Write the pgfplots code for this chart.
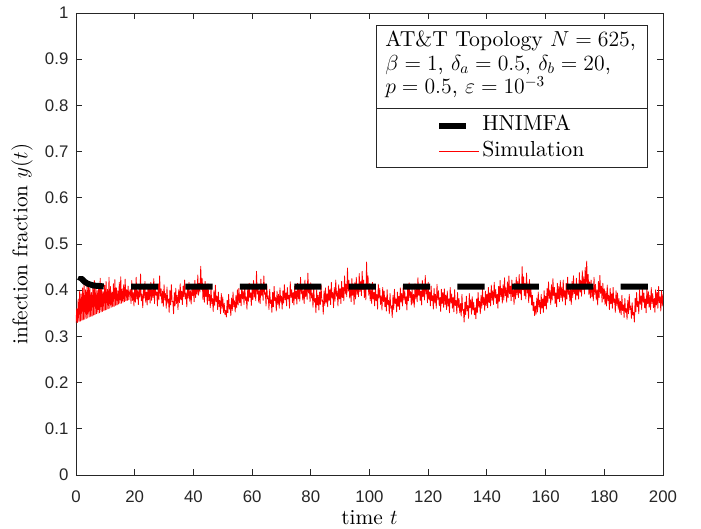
\RequirePackage{fix-cm}
\documentclass[border=0pt]{standalone}
\usepackage{fontspec}
\setmainfont{lmroman10-regular}[Extension=.otf, ItalicFont=lmroman10-italic, BoldFont=lmroman10-bold]
\usepackage{pgfplots}
\pgfplotsset{compat=1.18}
\newfontfamily\ticksf{Liberation Sans}
\definecolor{axgray}{rgb}{0.15,0.15,0.15}
\begin{document}
\begin{tikzpicture}
\begin{axis}[
  scale only axis, width=440.25pt, height=346.5pt,
  xmin=0, xmax=200, ymin=0, ymax=1,
  xtick={0,20,40,60,80,100,120,140,160,180,200},
  ytick={0,0.1,0.2,0.3,0.4,0.5,0.6,0.7,0.8,0.9,1},
  yticklabels={0,0.1,0.2,0.3,0.4,0.5,0.6,0.7,0.8,0.9,1},
  /pgf/number format/assume math mode=true,
  axis line style={axgray, line width=0.6pt},
  tick style={axgray, line width=0.6pt},
  major tick length=4.5pt,
  tick align=inside,
  xticklabel style={font=\ticksf\fontsize{12.6}{15}\selectfont, text=axgray, yshift=-8.3pt},
  yticklabel style={font=\ticksf\fontsize{12.6}{15}\selectfont, text=axgray, xshift=-2.2pt},
  xlabel={time $t$}, ylabel={infection fraction $y(t)$},
  every axis x label/.style={at={(axis description cs:0.5,-0.0918)}, anchor=center, font=\fontsize{16}{19}\selectfont},
  every axis y label/.style={at={(axis description cs:-0.092,0.5)}, rotate=90, anchor=center, font=\fontsize{16}{19}\selectfont},
  legend style={at={(axis description cs:0.6133,0.7288)}, anchor=west, draw=none, fill=none,
    inner sep=0pt, row sep=0pt, column sep=0pt, font=\fontsize{16.3}{19}\selectfont,
    nodes={text height=11.5pt, text depth=3.5pt, inner sep=2pt, anchor=west}},
  legend cell align=left,
]
\addplot[red, line width=0.6pt, line join=round, forget plot] coordinates {
(0,0.329)(0.25,0.360)(0.5,0.330)(0.75,0.381)(1,0.332)(1.25,0.398)(1.5,0.333)(1.75,0.392)(2,0.335)(2.25,0.405)
(2.5,0.336)(2.75,0.412)(3,0.337)(3.25,0.401)(3.5,0.339)(3.75,0.409)(4,0.340)(4.25,0.418)(4.5,0.342)(4.75,0.404)
(5,0.343)(5.25,0.395)(5.5,0.344)(5.75,0.410)(6,0.346)(6.25,0.421)(6.5,0.347)(6.75,0.407)(7,0.349)(7.25,0.399)
(7.5,0.350)(7.75,0.413)(8,0.351)(8.25,0.426)(8.5,0.353)(8.75,0.404)(9,0.354)(9.25,0.397)(9.5,0.356)(9.75,0.411)
(10,0.357)(10.25,0.419)(10.5,0.358)(10.75,0.402)(11,0.360)(11.25,0.428)(11.5,0.361)(11.75,0.408)(12,0.363)(12.25,0.396)
(12.5,0.364)(12.75,0.414)(13,0.365)(13.25,0.423)(13.5,0.367)(13.75,0.405)(14,0.368)(14.25,0.399)(14.5,0.370)(14.75,0.417)
(15,0.371)(15.25,0.429)(15.5,0.372)(15.75,0.403)(16,0.374)(16.25,0.412)(16.5,0.375)(16.75,0.424)(17,0.377)(17.25,0.401)
(17.5,0.378)(17.75,0.409)(18,0.379)(18.25,0.395)
(18.5,0.402)(18.75,0.371)(19,0.421)(19.25,0.378)(19.5,0.395)(19.75,0.366)(20,0.412)(20.25,0.374)
(20.5,0.428)(20.75,0.381)(21,0.399)(21.25,0.369)(21.5,0.407)(21.75,0.385)(22,0.435)(22.25,0.377)(22.5,0.391)(22.75,0.362)
(23,0.404)(23.25,0.383)(23.5,0.419)(23.75,0.374)(24,0.396)(24.25,0.368)(24.5,0.411)(24.75,0.379)(25,0.402)(25.25,0.372)
(25.5,0.417)(25.75,0.378)(26,0.401)(26.25,0.384)(26.5,0.425)(26.75,0.371)(27,0.409)(27.25,0.389)(27.5,0.396)(27.75,0.366)
(28,0.414)(28.25,0.380)(28.5,0.431)(28.75,0.387)(29,0.403)(29.25,0.372)(29.5,0.398)(29.75,0.365)(30,0.412)(30.25,0.379)
(30.5,0.393)(30.75,0.361)(31,0.407)(31.25,0.372)(31.5,0.381)(31.75,0.352)(32,0.400)(32.25,0.368)(32.5,0.412)(32.75,0.375)
(33,0.376)(33.25,0.349)(33.5,0.395)(33.75,0.366)(34,0.404)(34.25,0.371)(34.5,0.389)(34.75,0.358)(35,0.401)(35.25,0.373)
(35.5,0.414)(35.75,0.379)(36,0.398)(36.25,0.369)(36.5,0.409)(36.75,0.386)(37,0.422)(37.25,0.381)(37.5,0.394)(37.75,0.364)
(38,0.406)(38.25,0.383)(38.5,0.417)(38.75,0.376)(39,0.399)(39.25,0.370)(39.5,0.411)(39.75,0.388)(40,0.403)(40.25,0.375)
(40.5,0.421)(40.75,0.384)(41,0.408)(41.25,0.391)(41.5,0.433)(41.75,0.389)(42,0.415)(42.25,0.396)(42.5,0.452)(42.75,0.402)
(43,0.425)(43.25,0.380)(43.5,0.407)(43.75,0.374)(44,0.419)(44.25,0.386)(44.5,0.402)(44.75,0.369)(45,0.414)(45.25,0.377)
(45.5,0.391)(45.75,0.362)(46,0.406)(46.25,0.371)(46.5,0.382)(46.75,0.354)(47,0.399)(47.25,0.367)(47.5,0.411)(47.75,0.375)
(48,0.387)(48.25,0.358)(48.5,0.396)(48.75,0.364)(49,0.378)(49.25,0.349)(49.5,0.393)(49.75,0.361)(50,0.385)(50.25,0.352)
(50.5,0.372)(50.75,0.347)(51,0.356)(51.25,0.342)(51.5,0.378)(51.75,0.351)(52,0.391)(52.25,0.359)(52.5,0.369)(52.75,0.345)
(53,0.383)(53.25,0.356)(53.5,0.396)(53.75,0.364)(54,0.377)(54.25,0.353)(54.5,0.389)(54.75,0.362)(55,0.401)(55.25,0.368)
(55.5,0.404)(55.75,0.373)(56,0.391)(56.25,0.366)(56.5,0.412)(56.75,0.381)(57,0.397)(57.25,0.369)(57.5,0.409)(57.75,0.378)
(58,0.386)(58.25,0.359)(58.5,0.402)(58.75,0.376)(59,0.415)(59.25,0.384)(59.5,0.394)(59.75,0.367)(60,0.406)(60.25,0.379)
(60.5,0.421)(60.75,0.385)(61,0.403)(61.25,0.377)(61.5,0.441)(61.75,0.392)(62,0.412)(62.25,0.374)(62.5,0.399)(62.75,0.371)
(63,0.424)(63.25,0.389)(63.5,0.407)(63.75,0.378)(64,0.431)(64.25,0.391)(64.5,0.396)(64.75,0.366)(65,0.413)(65.25,0.381)
(65.5,0.388)(65.75,0.358)(66,0.402)(66.25,0.371)(66.5,0.379)(66.75,0.352)(67,0.395)(67.25,0.364)(67.5,0.408)(67.75,0.377)
(68,0.384)(68.25,0.355)(68.5,0.398)(68.75,0.369)(69,0.391)(69.25,0.361)(69.5,0.405)(69.75,0.374)(70,0.387)(70.25,0.359)
(70.5,0.399)(70.75,0.372)(71,0.412)(71.25,0.379)(71.5,0.394)(71.75,0.366)(72,0.406)(72.25,0.381)(72.5,0.389)(72.75,0.361)
(73,0.418)(73.25,0.384)(73.5,0.401)(73.75,0.373)(74,0.395)(74.25,0.368)(74.5,0.409)(74.75,0.382)(75,0.398)(75.25,0.370)
(75.5,0.415)(75.75,0.381)(76,0.403)(76.25,0.376)(76.5,0.428)(76.75,0.392)(77,0.411)(77.25,0.379)(77.5,0.399)(77.75,0.371)
(78,0.422)(78.25,0.386)(78.5,0.407)(78.75,0.380)(79,0.437)(79.25,0.394)(79.5,0.404)(79.75,0.375)(80,0.416)(80.25,0.383)
(80.5,0.394)(80.75,0.363)(81,0.407)(81.25,0.374)(81.5,0.382)(81.75,0.351)(82,0.401)(82.25,0.368)(82.5,0.389)(82.75,0.357)
(83,0.396)(83.25,0.369)(83.5,0.411)(83.75,0.376)(84,0.379)(84.25,0.348)(84.5,0.398)(84.75,0.367)(85,0.405)(85.25,0.372)
(85.5,0.392)(85.75,0.364)(86,0.409)(86.25,0.378)(86.5,0.401)(86.75,0.369)(87,0.417)(87.25,0.383)(87.5,0.395)(87.75,0.362)
(88,0.406)(88.25,0.376)(88.5,0.422)(88.75,0.387)(89,0.398)(89.25,0.366)(89.5,0.412)(89.75,0.381)(90,0.403)(90.25,0.371)
(90.5,0.419)(90.75,0.384)(91,0.406)(91.25,0.377)(91.5,0.431)(91.75,0.392)(92,0.413)(92.25,0.386)(92.5,0.448)(92.75,0.398)
(93,0.421)(93.25,0.383)(93.5,0.408)(93.75,0.375)(94,0.425)(94.25,0.389)(94.5,0.402)(94.75,0.369)(95,0.416)(95.25,0.381)
(95.5,0.428)(95.75,0.391)(96,0.413)(96.25,0.386)(96.5,0.436)(96.75,0.397)(97,0.419)(97.25,0.388)(97.5,0.441)(97.75,0.402)
(98,0.422)(98.25,0.384)(98.5,0.408)(98.75,0.379)(99,0.461)(99.25,0.404)(99.5,0.431)(99.75,0.389)(100,0.414)(100.25,0.377)
(100.5,0.402)(100.75,0.371)(101,0.417)(101.25,0.381)(101.5,0.395)(101.75,0.366)(102,0.409)(102.25,0.377)(102.5,0.391)(102.75,0.359)
(103,0.413)(103.25,0.383)(103.5,0.404)(103.75,0.369)(104,0.388)(104.25,0.357)(104.5,0.406)(104.75,0.375)(105,0.398)(105.25,0.364)
(105.5,0.384)(105.75,0.355)(106,0.401)(106.25,0.369)(106.5,0.378)(106.75,0.349)(107,0.393)(107.25,0.361)(107.5,0.366)(107.75,0.341)
(108,0.389)(108.25,0.358)(108.5,0.402)(108.75,0.371)(109,0.381)(109.25,0.353)(109.5,0.396)(109.75,0.365)(110,0.387)(110.25,0.358)
(110.5,0.405)(110.75,0.374)(111,0.393)(111.25,0.366)(111.5,0.411)(111.75,0.379)(112,0.399)(112.25,0.371)(112.5,0.386)(112.75,0.357)
(113,0.408)(113.25,0.377)(113.5,0.416)(113.75,0.384)(114,0.397)(114.25,0.368)(114.5,0.403)(114.75,0.372)(115,0.391)(115.25,0.363)
(115.5,0.414)(115.75,0.381)(116,0.402)(116.25,0.375)(116.5,0.427)(116.75,0.389)(117,0.408)(117.25,0.378)(117.5,0.398)(117.75,0.368)
(118,0.421)(118.25,0.386)(118.5,0.411)(118.75,0.379)(119,0.432)(119.25,0.392)(119.5,0.405)(119.75,0.373)(120,0.417)(120.25,0.380)
(120.5,0.396)(120.75,0.366)(121,0.409)(121.25,0.377)(121.5,0.388)(121.75,0.359)(122,0.404)(122.25,0.372)(122.5,0.391)(122.75,0.361)
(123,0.413)(123.25,0.379)(123.5,0.399)(123.75,0.367)(124,0.384)(124.25,0.354)(124.5,0.402)(124.75,0.371)(125,0.395)(125.25,0.363)
(125.5,0.403)(125.75,0.369)(126,0.389)(126.25,0.358)(126.5,0.398)(126.75,0.366)(127,0.381)(127.25,0.351)(127.5,0.406)(127.75,0.372)
(128,0.392)(128.25,0.361)(128.5,0.384)(128.75,0.353)(129,0.401)(129.25,0.367)(129.5,0.378)(129.75,0.349)(130,0.395)(130.25,0.362)
(130.5,0.382)(130.75,0.351)(131,0.371)(131.25,0.344)(131.5,0.391)(131.75,0.356)(132,0.358)(132.25,0.331)(132.5,0.374)(132.75,0.347)
(133,0.387)(133.25,0.355)(133.5,0.367)(133.75,0.339)(134,0.393)(134.25,0.362)(134.5,0.379)(134.75,0.348)(135,0.386)(135.25,0.357)
(135.5,0.374)(135.75,0.347)(136,0.362)(136.25,0.338)(136.5,0.381)(136.75,0.352)(137,0.395)(137.25,0.363)(137.5,0.376)(137.75,0.349)
(138,0.389)(138.25,0.361)(138.5,0.402)(138.75,0.369)(139,0.384)(139.25,0.356)(139.5,0.398)(139.75,0.367)(140,0.391)(140.25,0.362)
(140.5,0.406)(140.75,0.373)(141,0.394)(141.25,0.366)(141.5,0.411)(141.75,0.378)(142,0.399)(142.25,0.369)(142.5,0.417)(142.75,0.383)
(143,0.402)(143.25,0.371)(143.5,0.391)(143.75,0.361)(144,0.408)(144.25,0.376)(144.5,0.421)(144.75,0.386)(145,0.404)(145.25,0.372)
(145.5,0.412)(145.75,0.379)(146,0.427)(146.25,0.388)(146.5,0.405)(146.75,0.374)(147,0.418)(147.25,0.384)(147.5,0.431)(147.75,0.392)
(148,0.409)(148.25,0.377)(148.5,0.422)(148.75,0.386)(149,0.401)(149.25,0.369)(149.5,0.415)(149.75,0.381)(150,0.428)(150.25,0.390)
(150.5,0.419)(150.75,0.384)(151,0.434)(151.25,0.393)(151.5,0.411)(151.75,0.379)(152,0.451)(152.25,0.401)(152.5,0.429)(152.75,0.388)
(153,0.415)(153.25,0.381)(153.5,0.437)(153.75,0.394)(154,0.408)(154.25,0.373)(154.5,0.423)(154.75,0.385)(155,0.404)(155.25,0.368)
(155.5,0.389)(155.75,0.356)(156,0.374)(156.25,0.345)(156.5,0.366)(156.75,0.348)(157,0.383)(157.25,0.353)(157.5,0.396)(157.75,0.364)
(158,0.378)(158.25,0.349)(158.5,0.391)(158.75,0.361)(159,0.381)(159.25,0.352)(159.5,0.399)(159.75,0.366)(160,0.387)(160.25,0.359)
(160.5,0.404)(160.75,0.373)(161,0.418)(161.25,0.382)(161.5,0.399)(161.75,0.369)(162,0.412)(162.25,0.379)(162.5,0.425)(162.75,0.388)
(163,0.406)(163.25,0.371)(163.5,0.394)(163.75,0.364)(164,0.415)(164.25,0.381)(164.5,0.408)(164.75,0.375)(165,0.421)(165.25,0.384)
(165.5,0.407)(165.75,0.376)(166,0.422)(166.25,0.385)(166.5,0.399)(166.75,0.368)(167,0.415)(167.25,0.381)(167.5,0.428)(167.75,0.391)
(168,0.411)(168.25,0.377)(168.5,0.403)(168.75,0.369)(169,0.419)(169.25,0.384)(169.5,0.431)(169.75,0.393)(170,0.413)(170.25,0.379)
(170.5,0.426)(170.75,0.388)(171,0.411)(171.25,0.381)(171.5,0.438)(171.75,0.396)(172,0.421)(172.25,0.387)(172.5,0.442)(172.75,0.401)
(173,0.429)(173.25,0.392)(173.5,0.449)(173.75,0.408)(174,0.463)(174.25,0.412)(174.5,0.434)(174.75,0.391)(175,0.418)(175.25,0.383)
(175.5,0.422)(175.75,0.386)(176,0.407)(176.25,0.377)(176.5,0.428)(176.75,0.391)(177,0.413)(177.25,0.379)(177.5,0.401)(177.75,0.368)
(178,0.419)(178.25,0.384)(178.5,0.432)(178.75,0.393)(179,0.409)(179.25,0.374)(179.5,0.415)(179.75,0.381)(180,0.403)(180.25,0.369)
(180.5,0.397)(180.75,0.366)(181,0.411)(181.25,0.377)(181.5,0.389)(181.75,0.358)(182,0.404)(182.25,0.371)(182.5,0.392)(182.75,0.361)
(183,0.406)(183.25,0.373)(183.5,0.381)(183.75,0.352)(184,0.399)(184.25,0.367)(184.5,0.394)(184.75,0.359)(185,0.382)(185.25,0.351)
(185.5,0.376)(185.75,0.347)(186,0.389)(186.25,0.356)(186.5,0.368)(186.75,0.341)(187,0.382)(187.25,0.352)(187.5,0.361)(187.75,0.337)
(188,0.378)(188.25,0.349)(188.5,0.391)(188.75,0.358)(189,0.366)(189.25,0.339)(189.5,0.373)(189.75,0.346)(190,0.352)(190.25,0.331)
(190.5,0.382)(190.75,0.353)(191,0.395)(191.25,0.364)(191.5,0.376)(191.75,0.349)(192,0.401)(192.25,0.369)(192.5,0.388)(192.75,0.358)
(193,0.408)(193.25,0.374)(193.5,0.394)(193.75,0.362)(194,0.381)(194.25,0.351)(194.5,0.403)(194.75,0.371)(195,0.397)(195.25,0.363)
(195.5,0.389)(195.75,0.358)(196,0.406)(196.25,0.371)(196.5,0.393)(196.75,0.362)(197,0.382)(197.25,0.352)(197.5,0.401)(197.75,0.368)
(198,0.395)(198.25,0.361)(198.5,0.408)(198.75,0.373)(199,0.386)(199.25,0.355)(199.5,0.399)(199.75,0.366)(200,0.391)
};
\addplot[black, line width=4.5pt, line cap=butt, dash pattern=on 20.3pt off 20.5pt,
  legend image code/.code={\draw[black,line width=4.5pt] (0pt,0pt) -- (21.75pt,0pt);}] coordinates {
(1.3,0.420)(1.6,0.424)(2,0.424)(2.5,0.421)(3,0.418)(4,0.414)(5,0.412)(6,0.410)(8,0.409)(10,0.408)(200,0.408)
};
\addlegendentry{HNIMFA}
\addlegendimage{legend image code/.code={\draw[red,line width=0.6pt] (0pt,0pt) -- (30pt,0pt);}}
\addlegendentry{Simulation}
\draw[axgray, line width=0.6pt, fill=white] (axis description cs:0.5111,0.6667) rectangle (axis description cs:0.9727,0.974);
\draw[axgray, line width=0.6pt] (axis description cs:0.5111,0.7944) -- (axis description cs:0.9727,0.7944);
\node[anchor=base west, inner sep=0pt, font=\fontsize{16.3}{19}\selectfont] at (axis description cs:0.5264,0.9271) {AT\&T Topology $N=625$,};
\node[anchor=base west, inner sep=0pt, font=\fontsize{16.3}{19}\selectfont] at (axis description cs:0.5264,0.8766) {$\beta=1$, $\delta_a=0.5$, $\delta_b=20$,};
\node[anchor=base west, inner sep=0pt, font=\fontsize{16.3}{19}\selectfont] at (axis description cs:0.5264,0.8247) {$p=0.5$, $\varepsilon=10^{-3}$};
\end{axis}
\pgfresetboundingbox
\path ([shift={(-57pt,-40.5pt)}]current axis.south west) rectangle ([shift={(28.5pt,9.75pt)}]current axis.north east);
\end{tikzpicture}
\end{document}
